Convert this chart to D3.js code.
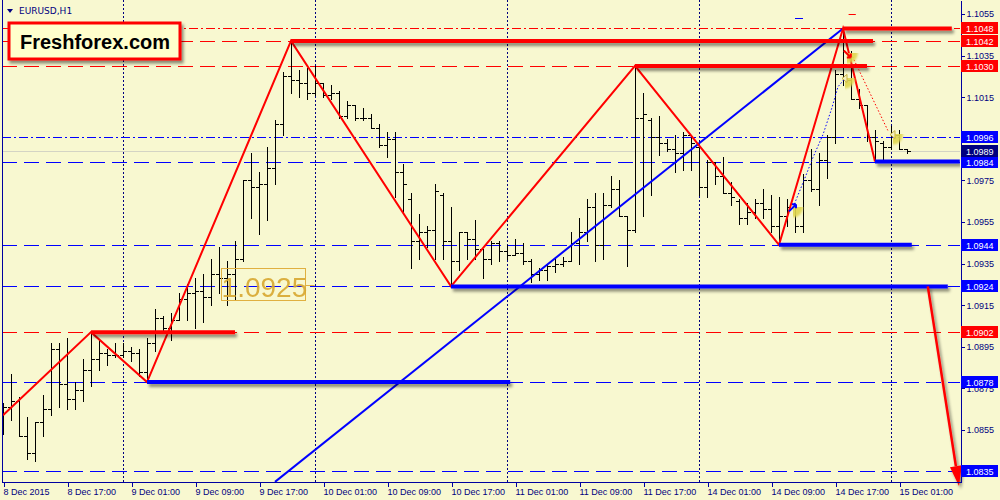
<!DOCTYPE html>
<html>
<head>
<meta charset="utf-8">
<script src="https://cdnjs.cloudflare.com/ajax/libs/d3/7.8.5/d3.min.js"></script>
<style>
  body { margin: 0; background: #f8f8d0; }
  svg { display: block; }
  .axis text { font-family: "Liberation Sans", Arial, sans-serif; font-size: 9px; fill: #000080; }
  .axis path, .axis line { stroke: #0000a0; shape-rendering: crispEdges; }
</style>
</head>
<body>
<div id="chart"></div>
<script>
// EURUSD H1 bars (8 Dec 2015 00:00 onwards, one per hour)
var barOpen  = [1.0861,1.0866,1.0869,1.0852,1.0844,1.0859,1.0865,1.0894,1.0877,1.0870,1.0874,1.0884,1.0889,1.0892,1.0891,1.0891,1.0893,1.0892,1.0883,1.0897,
                1.0909,1.0904,1.0908,1.0918,1.0921,1.0922,1.0919,1.0930,1.0928,1.0930,1.0937,1.0975,1.0972,1.0973,1.0981,1.1002,1.1025,1.1023,1.1022,1.1017,
                1.1022,1.1016,1.1017,1.1006,1.1011,1.1005,1.1005,1.1000,1.0992,1.0995,1.0979,1.0966,1.0946,1.0950,1.0951,1.0968,1.0946,1.0936,1.0950,1.0947,
                1.0942,1.0937,1.0945,1.0941,1.0939,1.0940,1.0936,1.0930,1.0932,1.0934,1.0935,1.0936,1.0945,1.0950,1.0962,1.0944,1.0963,1.0971,1.0958,1.0951,
                1.1005,1.1004,1.0996,1.0993,1.0990,1.0988,1.0997,1.0991,1.0972,1.0984,1.0977,1.0969,1.0965,1.0957,1.0960,1.0964,1.0961,1.0953,1.0958,1.0962,
                1.0953,1.0975,1.0971,1.0985,1.0996,1.1026,1.1023,1.1014,1.1011,1.0996,1.0993,1.0991,1.0997,1.0990];
var barHigh  = [1.0868,1.0882,1.0871,1.0861,1.0859,1.0872,1.0897,1.0897,1.0899,1.0878,1.0889,1.0902,1.0898,1.0894,1.0897,1.0897,1.0895,1.0894,1.0899,1.0913,
                1.0910,1.0911,1.0921,1.0925,1.0928,1.0930,1.0937,1.0943,1.0936,1.0946,1.0975,1.0988,1.0979,1.0991,1.1004,1.1027,1.1042,1.1028,1.1029,1.1030,
                1.1022,1.1021,1.1018,1.1013,1.1011,1.1010,1.1007,1.1002,1.0998,1.0998,1.0983,1.0969,1.0959,1.0953,1.0973,1.0969,1.0962,1.0950,1.0950,1.0956,
                1.0942,1.0946,1.0946,1.0944,1.0947,1.0945,1.0937,1.0933,1.0935,1.0937,1.0938,1.0950,1.0957,1.0966,1.0969,1.0969,1.0977,1.0975,1.0958,1.1030,
                1.1017,1.1005,1.1006,1.0995,1.0997,1.0998,1.0997,1.0992,1.0985,1.0984,1.0986,1.0974,1.0966,1.0964,1.0966,1.0971,1.0968,1.0967,1.0966,1.0963,
                1.0978,1.0990,1.0988,1.0997,1.1028,1.1048,1.1037,1.1019,1.1011,1.0999,1.0994,1.1001,1.0999,1.0990];
var barLow   = [1.0853,1.0860,1.0852,1.0841,1.0840,1.0852,1.0862,1.0866,1.0865,1.0865,1.0869,1.0876,1.0884,1.0886,1.0890,1.0890,1.0888,1.0881,1.0878,1.0893,
                1.0903,1.0898,1.0908,1.0908,1.0904,1.0907,1.0915,1.0921,1.0915,1.0918,1.0936,1.0957,1.0949,1.0956,1.0973,1.0997,1.1017,1.1015,1.1014,1.1016,
                1.1015,1.1014,1.1005,1.1005,1.1004,1.1004,1.1000,1.0991,1.0986,1.0967,1.0960,1.0933,1.0937,1.0943,1.0937,1.0937,1.0924,1.0932,1.0937,1.0937,
                1.0928,1.0935,1.0936,1.0937,1.0939,1.0935,1.0926,1.0927,1.0927,1.0931,1.0934,1.0936,1.0935,1.0946,1.0936,1.0937,1.0962,1.0958,1.0934,1.0950,
                1.0958,1.0968,1.0987,1.0989,1.0979,1.0980,1.0980,1.0968,1.0967,1.0973,1.0969,1.0963,1.0954,1.0954,1.0957,1.0957,1.0950,1.0944,1.0953,1.0950,
                1.0950,1.0970,1.0963,1.0976,1.0993,1.1021,1.1014,1.1010,1.0994,1.0984,1.0984,1.0990,1.0990,1.0988];
var barClose = [1.0866,1.0869,1.0852,1.0844,1.0859,1.0865,1.0894,1.0877,1.0870,1.0874,1.0884,1.0889,1.0892,1.0891,1.0891,1.0893,1.0892,1.0883,1.0897,1.0909,
                1.0904,1.0908,1.0918,1.0921,1.0922,1.0919,1.0930,1.0928,1.0930,1.0937,1.0975,1.0972,1.0973,1.0981,1.1002,1.1025,1.1023,1.1022,1.1017,1.1022,
                1.1016,1.1017,1.1006,1.1011,1.1005,1.1005,1.1000,1.0992,1.0995,1.0979,1.0973,1.0946,1.0950,1.0951,1.0970,1.0946,1.0936,1.0950,1.0947,1.0942,
                1.0937,1.0945,1.0941,1.0939,1.0940,1.0936,1.0930,1.0932,1.0934,1.0935,1.0936,1.0945,1.0950,1.0962,1.0944,1.0963,1.0971,1.0958,1.0951,1.1005,
                1.1007,1.0996,1.0993,1.0990,1.0988,1.0997,1.0993,1.0972,1.0984,1.0977,1.0969,1.0967,1.0957,1.0960,1.0964,1.0961,1.0953,1.0958,1.0962,1.0953,
                1.0975,1.0971,1.0985,1.0996,1.1026,1.1023,1.1014,1.1011,1.0996,1.0994,1.0991,1.0997,1.0990,1.0989];

// time axis: a label every 8 bars
var timeLabels = ["8 Dec 2015","8 Dec 17:00","9 Dec 01:00","9 Dec 09:00","9 Dec 17:00","10 Dec 01:00","10 Dec 09:00","10 Dec 17:00",
                  "11 Dec 01:00","11 Dec 09:00","11 Dec 17:00","14 Dec 01:00","14 Dec 09:00","14 Dec 17:00","15 Dec 01:00"];
var daySepBars = [15, 39, 63, 87, 111];
var priceTicks = [1.1055,1.1035,1.1015,1.0995,1.0975,1.0955,1.0935,1.0915,1.0895,1.0875,1.0855,1.0835];

// horizontal levels
var redLevels = [1.1048, 1.1042, 1.1030, 1.0902];
var blueLevels = [1.0996, 1.0984, 1.0944, 1.0924, 1.0878, 1.0835];
var dashDotLevels = [1.1048, 1.0996];
var bidPrice = 1.0989;

// zigzag swings
var zigBars = [0, 11, 18, 36, 56, 79, 97, 105, 109];
var zigPrices = [1.0862, 1.0902, 1.0878, 1.1042, 1.0924, 1.1030, 1.0944, 1.1048, 1.0984];

// thick swing lines: [fromBar, toBar, price]
var highSegs = [[11, 29, 1.0902], [36, 108.75, 1.1042], [79, 108, 1.1030], [105, 118.6, 1.1048]];
var lowSegs = [[18, 63.4, 1.0878], [56, 118.1, 1.0924], [97, 113.6, 1.0944], [109, 119.6, 1.0984]];

// trend line and target arrow
var trendBars = [34, 105];
var trendPrices = [1.0830, 1.1048];
var arrowBars = [115.6, 119.5];
var arrowPrices = [1.0924, 1.0828];

// signal marks
var markBars = [98.75, 105.6, 105.25, 111.25];
var markPrices = [1.0962, 1.1036, 1.1024, 1.0997];
var blueDotBars = [98.75, 100.125, 101.25, 102.5, 103.625, 104.375, 105.25];
var blueDotPrices = [1.0962, 1.0975, 1.0986, 1.0997, 1.1010, 1.1020, 1.1024];
var redDotBars = [106, 110.6];
var redDotPrices = [1.1036, 1.0999];
var priceNote = {bar: 27.2, price: 1.0925, text: "1.0925"};

var svgWidth = 1000;
var svgHeight = 500;
var plotLeft = 2, plotRight = 960, plotBottom = 482;

var svg = d3.select("#chart")
  .append("svg")
  .attr("width", svgWidth)
  .attr("height", svgHeight);

svg.append("rect").attr("width", svgWidth).attr("height", svgHeight).attr("fill", "#f8f8d0");

var x = d3.scaleLinear().domain([0, 119.625]).range([3, 960]);
var y = d3.scaleLinear().domain([1.082995, 1.10617]).range([482, 0]);

function px(v) { return Math.round(v) + 0.5; }

// filters
var defs = svg.append("defs");
var sh = defs.append("filter").attr("id", "shadow")
  .attr("filterUnits", "userSpaceOnUse").attr("x", 0).attr("y", 0).attr("width", svgWidth).attr("height", svgHeight);
sh.append("feDropShadow").attr("dx", 2).attr("dy", 3).attr("stdDeviation", 1.8)
  .attr("flood-color", "#000").attr("flood-opacity", 0.45);
var glow = defs.append("filter").attr("id", "glow")
  .attr("filterUnits", "userSpaceOnUse").attr("x", 0).attr("y", 0).attr("width", svgWidth).attr("height", svgHeight);
glow.append("feGaussianBlur").attr("stdDeviation", 0.8);
defs.append("clipPath").attr("id", "plotclip")
  .append("rect").attr("x", plotLeft).attr("y", 0).attr("width", plotRight - plotLeft).attr("height", plotBottom);

var chartGroup = svg.append("g").attr("clip-path", "url(#plotclip)");

// day separators
chartGroup.selectAll(".daysep")
  .data(daySepBars)
  .enter()
  .append("line")
  .attr("x1", d => px(x(d))).attr("x2", d => px(x(d)))
  .attr("y1", 0).attr("y2", plotBottom)
  .attr("stroke", "#000080")
  .attr("stroke-dasharray", "2,2")
  .attr("shape-rendering", "crispEdges");

// bid line
chartGroup.append("line")
  .attr("x1", plotLeft).attr("x2", plotRight)
  .attr("y1", px(y(bidPrice))).attr("y2", px(y(bidPrice)))
  .attr("stroke", "#d4d4c4")
  .attr("shape-rendering", "crispEdges");

// level lines
function levelLines(levels, color) {
  chartGroup.selectAll(null)
    .data(levels)
    .enter()
    .append("line")
    .attr("x1", plotLeft).attr("x2", plotRight)
    .attr("y1", d => px(y(d))).attr("y2", d => px(y(d)))
    .attr("stroke", color)
    .attr("shape-rendering", "crispEdges")
    .attr("stroke-dasharray", d => dashDotLevels.indexOf(d) >= 0 ? "9,3,2,3" : "15,7");
}
levelLines(redLevels, "#ff0000");
levelLines(blueLevels, "#0000ff");

// OHLC bars
var bars = chartGroup.selectAll(".bar")
  .data(barClose.map((c, i) => ({i: i, o: barOpen[i], h: barHigh[i], l: barLow[i], c: c})))
  .enter()
  .append("g")
  .attr("class", "bar")
  .attr("stroke", "#000")
  .attr("shape-rendering", "crispEdges");
bars.append("line")
  .attr("x1", d => px(x(d.i))).attr("x2", d => px(x(d.i)))
  .attr("y1", d => Math.round(y(d.h))).attr("y2", d => Math.round(y(d.l)) + 1);
bars.append("line")
  .attr("x1", d => Math.round(x(d.i)) - 3).attr("x2", d => Math.round(x(d.i)))
  .attr("y1", d => px(y(d.o))).attr("y2", d => px(y(d.o)));
bars.append("line")
  .attr("x1", d => Math.round(x(d.i)) + 1).attr("x2", d => Math.round(x(d.i)) + 4)
  .attr("y1", d => px(y(d.c))).attr("y2", d => px(y(d.c)));

// trend line
chartGroup.append("line")
  .attr("x1", x(trendBars[0])).attr("y1", y(trendPrices[0]))
  .attr("x2", x(trendBars[1])).attr("y2", y(trendPrices[1]))
  .attr("stroke", "#0000ff").attr("stroke-width", 2);

// zigzag
var zigLine = d3.line().x(d => x(d[0])).y(d => y(d[1]));
chartGroup.append("path")
  .attr("d", zigLine(zigBars.map((b, i) => [b, zigPrices[i]])))
  .attr("fill", "none").attr("stroke", "#ff0000").attr("stroke-width", 2);

// thick swing lines
function thick(segs, color) {
  chartGroup.selectAll(null)
    .data(segs)
    .enter()
    .append("line")
    .attr("x1", d => x(d[0])).attr("x2", d => x(d[1]))
    .attr("y1", d => y(d[2])).attr("y2", d => y(d[2]))
    .attr("stroke", color).attr("stroke-width", 4)
    .attr("filter", "url(#shadow)");
}
thick(highSegs, "#ff0000");
thick(lowSegs, "#0000ff");

// dotted signal paths
chartGroup.append("path")
  .attr("d", zigLine(blueDotBars.map((b, i) => [b, blueDotPrices[i]])))
  .attr("fill", "none").attr("stroke", "#0000ff").attr("stroke-dasharray", "1.5,2");
chartGroup.append("path")
  .attr("d", zigLine(redDotBars.map((b, i) => [b, redDotPrices[i]])))
  .attr("fill", "none").attr("stroke", "#ff0000").attr("stroke-dasharray", "1.5,2");

// yellow marks
var marks = chartGroup.selectAll(".mark")
  .data(markBars.map((b, i) => [b, markPrices[i]]))
  .enter()
  .append("g")
  .attr("transform", d => `translate(${x(d[0])},${y(d[1])})`);
marks.append("circle").attr("r", 10)
  .attr("fill", "#e0d650").attr("opacity", 0.9).attr("filter", "url(#glow)");
marks.each(function(d, i) {
  var g = d3.select(this);
  if (i == 0) {
    g.append("path").attr("d", "M-4,4 L3,-3 M3,-3 L3,1 M3,-3 L-1,-3").attr("stroke", "#0000ff").attr("stroke-width", 2);
  } else if (i == 1) {
    g.append("path").attr("d", "M-4,-3 L3,4 M3,4 L3,0 M3,4 L-1,4").attr("stroke", "#ff0000").attr("stroke-width", 2);
  } else {
    g.append("path").attr("d", "M-3,0 L2,-4 L2,4 Z").attr("fill", "#f4f0c0").attr("stroke", "#c8b040");
  }
});

// price note
var noteX = x(priceNote.bar), noteY = y(priceNote.price);
chartGroup.append("rect")
  .attr("x", px(noteX)).attr("y", px(noteY - 16))
  .attr("width", 84).attr("height", 32)
  .attr("fill", "none").attr("stroke", "#e0b040");
chartGroup.append("line")
  .attr("x1", noteX + 84).attr("x2", noteX + 94)
  .attr("y1", px(noteY + 1)).attr("y2", px(noteY + 1))
  .attr("stroke", "#e0b040");
chartGroup.append("text")
  .attr("x", noteX + 1).attr("y", noteY + 13)
  .attr("font-family", "'Liberation Sans', Arial, sans-serif")
  .attr("font-size", 28)
  .attr("fill", "#d8a830").attr("opacity", 0.9)
  .text(priceNote.text);

// small tick marks on top
chartGroup.append("line").attr("x1", x(99)).attr("x2", x(100)).attr("y1", px(y(1.1053))).attr("y2", px(y(1.1053)))
  .attr("stroke", "#0000ff");
chartGroup.append("line").attr("x1", x(105.7)).attr("x2", x(106.6)).attr("y1", px(y(1.1055))).attr("y2", px(y(1.1055)))
  .attr("stroke", "#ff0000");

// target arrow
var ax0 = x(arrowBars[0]), ay0 = y(arrowPrices[0]), ax1 = x(arrowBars[1]), ay1 = y(arrowPrices[1]);
var ang = Math.atan2(ay1 - ay0, ax1 - ax0);
var hx = ax1 - 20 * Math.cos(ang), hy = ay1 - 20 * Math.sin(ang);
var arrow = svg.append("g").attr("filter", "url(#shadow)");
arrow.append("line").attr("x1", ax0).attr("y1", ay0).attr("x2", hx).attr("y2", hy)
  .attr("stroke", "#ff0000").attr("stroke-width", 2.5);
arrow.append("path")
  .attr("d", `M${ax1},${ay1} L${hx + 6 * Math.sin(ang)},${hy - 6 * Math.cos(ang)} L${hx - 6 * Math.sin(ang)},${hy + 6 * Math.cos(ang)} Z`)
  .attr("fill", "#ff0000");

// frame + axes
svg.append("line").attr("x1", plotLeft + 0.5).attr("x2", plotLeft + 0.5).attr("y1", 0).attr("y2", plotBottom)
  .attr("stroke", "#0000a0");

var rightAxis = d3.axisRight(y).tickValues(priceTicks).tickSize(4).tickSizeOuter(0).tickPadding(2)
  .tickFormat(d3.format(".4f"));
svg.append("g").attr("class", "axis")
  .attr("transform", `translate(${plotRight + 0.5},0)`)
  .call(rightAxis);

var bottomAxis = d3.axisBottom(x).tickValues(timeLabels.map((t, i) => i * 8)).tickSize(4).tickSizeOuter(0).tickPadding(2)
  .tickFormat((d, i) => timeLabels[i]);
var bAxis = svg.append("g").attr("class", "axis")
  .attr("transform", `translate(0,${plotBottom + 0.5})`)
  .call(bottomAxis);
bAxis.select(".domain").attr("d", `M${plotLeft},0H${plotRight + 0.5}`);
bAxis.selectAll(".tick line").attr("transform", "translate(0.5,0)");
bAxis.selectAll(".tick text").attr("text-anchor", "start").attr("x", 0);

// price boxes on the axis
function priceBox(p, color) {
  var cy = Math.round(y(p));
  svg.append("rect").attr("x", 961).attr("y", cy - 6).attr("width", 37).attr("height", 12).attr("fill", color);
  svg.append("text").attr("x", 966).attr("y", cy + 3.5)
    .attr("font-family", "'Liberation Sans', Arial, sans-serif").attr("font-size", 9)
    .attr("fill", "#fff").text(d3.format(".4f")(p));
}
redLevels.forEach(p => priceBox(p, "#ff0000"));
blueLevels.forEach(p => priceBox(p, "#0000ff"));
priceBox(bidPrice, "#000080");

// header
svg.append("path").attr("d", "M7,9 L13,9 L10,13 Z").attr("fill", "#000080");
svg.append("text").attr("x", 19).attr("y", 14)
  .attr("font-family", "'DejaVu Sans', Verdana, sans-serif").attr("font-size", 9)
  .attr("fill", "#000080").text("EURUSD,H1");

// logo box
svg.append("rect").attr("x", 9).attr("y", 23).attr("width", 171).attr("height", 36)
  .attr("fill", "#ffffcc").attr("stroke", "#ff0000").attr("stroke-width", 3)
  .attr("filter", "url(#shadow)");
svg.append("text").attr("x", 20).attr("y", 49)
  .attr("font-family", "'Liberation Sans', Arial, sans-serif").attr("font-size", 20).attr("font-weight", "bold")
  .attr("fill", "#000").text("Freshforex.com");
</script>
</body>
</html>
